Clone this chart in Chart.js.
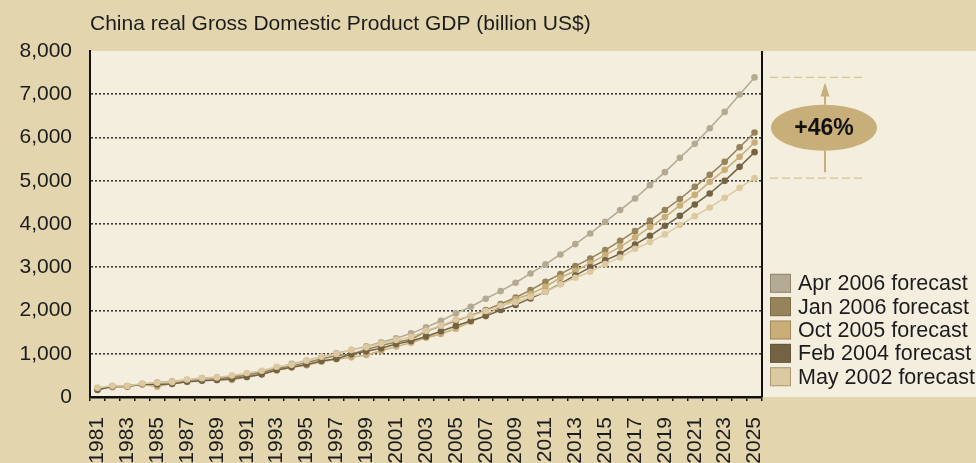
<!DOCTYPE html>
<html>
<head>
<meta charset="utf-8">
<script src="https://cdn.jsdelivr.net/npm/chart.js@4.4.0/dist/chart.umd.min.js"></script>
<style>
  html, body { margin: 0; padding: 0; background: #E3D5AD; overflow: hidden; }
  canvas { display: block; }
</style>
</head>
<body>
<canvas id="gdp" width="976" height="463"></canvas>
<script>
const years = ['1981', '1982', '1983', '1984', '1985', '1986', '1987', '1988', '1989', '1990',
  '1991', '1992', '1993', '1994', '1995', '1996', '1997', '1998', '1999', '2000',
  '2001', '2002', '2003', '2004', '2005', '2006', '2007', '2008', '2009', '2010',
  '2011', '2012', '2013', '2014', '2015', '2016', '2017', '2018', '2019', '2020',
  '2021', '2022', '2023', '2024', '2025'];

// billion US$, one value per year
const apr2006 = [205, 225, 248, 290, 335, 362, 400, 440, 455, 475,
  520, 595, 675, 765, 845, 930, 1010, 1090, 1170, 1265,
  1360, 1471, 1610, 1764, 1933, 2087, 2272, 2449, 2642, 2857,
  3066, 3296, 3535, 3782, 4051, 4321, 4591, 4898, 5199, 5530,
  5853, 6215, 6592, 6994, 7390];
const jan2006 = [180, 240, 252, 300, 320, 340, 380, 420, 430, 450,
  500, 565, 650, 720, 800, 880, 960, 990, 1100, 1190,
  1270, 1330, 1520, 1640, 1760, 1880, 2010, 2150, 2300, 2472,
  2665, 2840, 3027, 3204, 3396, 3612, 3835, 4078, 4325, 4578,
  4859, 5137, 5437, 5776, 6116];
const oct2005 = [190, 240, 250, 295, 239, 320, 355, 385, 395, 393,
  465, 520, 610, 690, 732, 815, 870, 917, 970, 1070,
  1165, 1255, 1370, 1455, 1580, 1740, 1900, 2090, 2260, 2380,
  2549, 2757, 2919, 3096, 3281, 3473, 3690, 3928, 4159, 4429,
  4674, 4975, 5252, 5553, 5885];
const feb2004 = [162, 250, 245, 300, 290, 300, 354, 377, 393, 420,
  462, 524, 624, 686, 750, 832, 886, 986, 1056, 1125,
  1225, 1294, 1400, 1520, 1640, 1764, 1870, 2010, 2130, 2280,
  2434, 2620, 2810, 2996, 3160, 3312, 3527, 3728, 3959, 4189,
  4452, 4706, 4998, 5321, 5661];
const may2002 = [216, 262, 254, 312, 330, 345, 405, 435, 450, 500,
  555, 608, 701, 747, 839, 932, 994, 1086, 1148, 1235,
  1320, 1390, 1530, 1650, 1790, 1870, 1987, 2110, 2190, 2318,
  2434, 2603, 2757, 2896, 3073, 3227, 3427, 3581, 3759, 3974,
  4182, 4383, 4605, 4836, 5060];

const seriesNames = ['Apr 2006 forecast', 'Jan 2006 forecast', 'Oct 2005 forecast',
  'Feb 2004 forecast', 'May 2002 forecast'];
const seriesColors = ['#B4AA93', '#978359', '#C9AE78', '#736343', '#DCC9A0'];
const seriesData = [apr2006, jan2006, oct2005, feb2004, may2002];

const title = 'China real Gross Domestic Product GDP (billion US$)';
const FONT = "'Liberation Sans', Arial, Helvetica, sans-serif";
const INK = '#1c1c1c';

const datasets = seriesData.map((data, i) => ({
  label: seriesNames[i],
  data,
  borderColor: seriesColors[i],
  backgroundColor: seriesColors[i],
  pointBackgroundColor: seriesColors[i],
  pointBorderWidth: 0,
  pointRadius: 3.3,
  borderWidth: 1.5,
  tension: 0,
  // older forecasts drawn over newer ones
  order: seriesData.length - 1 - i
}));

const frame = {
  id: 'frame',
  beforeDraw(chart) {
    const {ctx, chartArea: a, width, height} = chart;
    ctx.save();
    ctx.fillStyle = '#E3D5AD';
    ctx.fillRect(0, 0, width, height);
    ctx.fillStyle = '#F4EEDF';
    ctx.fillRect(a.left, a.top, width - a.left, a.bottom - a.top);
    ctx.restore();
  },
  afterDraw(chart) {
    const {ctx, chartArea: a} = chart;
    const y = chart.scales.y;
    ctx.save();

    // right edge of the plot
    ctx.strokeStyle = '#111';
    ctx.lineWidth = 2;
    ctx.beginPath();
    ctx.moveTo(a.right, a.top);
    ctx.lineTo(a.right, a.bottom);
    ctx.stroke();

    // title
    ctx.fillStyle = INK;
    ctx.font = '21px ' + FONT;
    ctx.textAlign = 'left';
    ctx.textBaseline = 'alphabetic';
    ctx.fillText(title, a.left, 30);

    // legend
    const lx = a.right + 8;
    ctx.font = '21.5px ' + FONT;
    chart.data.datasets.forEach((ds, i) => {
      const cy = 283.3 + i * 23.35;
      ctx.fillStyle = ds.backgroundColor;
      ctx.fillRect(lx, cy - 9.5, 21, 19);
      ctx.strokeStyle = 'rgba(80,65,40,0.35)';
      ctx.lineWidth = 1;
      ctx.strokeRect(lx + 0.5, cy - 9, 20, 18);
      ctx.fillStyle = INK;
      ctx.textBaseline = 'middle';
      ctx.fillText(ds.label, lx + 28, cy + 1);
    });

    // gap between newest and oldest forecast for the last year
    const last = years.length - 1;
    const hi = apr2006[last];
    const lo = may2002[last];
    const yHi = y.getPixelForValue(hi);
    const yLo = y.getPixelForValue(lo);
    const gold = '#C8AE78';
    ctx.strokeStyle = '#D7C38F';
    ctx.lineWidth = 1.3;
    ctx.setLineDash([8, 4]);
    [yHi, yLo].forEach(py => {
      ctx.beginPath();
      ctx.moveTo(a.right + 8, py);
      ctx.lineTo(a.right + 104, py);
      ctx.stroke();
    });
    ctx.setLineDash([]);

    const ax = a.right + 63;
    const mid = (yHi + yLo) / 2;
    const ry = 23;
    ctx.strokeStyle = gold;
    ctx.lineWidth = 2;
    ctx.beginPath();
    ctx.moveTo(ax, mid - ry);
    ctx.lineTo(ax, yHi + 18);
    ctx.moveTo(ax, mid + ry);
    ctx.lineTo(ax, yLo - 6);
    ctx.stroke();
    ctx.fillStyle = gold;
    ctx.beginPath();
    ctx.moveTo(ax, yHi + 5);
    ctx.lineTo(ax - 4.5, yHi + 19);
    ctx.lineTo(ax + 4.5, yHi + 19);
    ctx.closePath();
    ctx.fill();

    ctx.beginPath();
    ctx.ellipse(ax - 1, mid, 53, ry, 0, 0, Math.PI * 2);
    ctx.fill();

    ctx.fillStyle = '#111';
    ctx.font = 'bold 23px ' + FONT;
    ctx.textAlign = 'center';
    ctx.textBaseline = 'middle';
    const pct = Math.round((hi / lo - 1) * 100);
    ctx.fillText('+' + pct + '%', ax - 1, mid + 1);

    ctx.restore();
  }
};

new Chart(document.getElementById('gdp'), {
  type: 'line',
  data: { labels: years, datasets },
  options: {
    responsive: false,
    animation: false,
    devicePixelRatio: 1,
    layout: { padding: { top: 51, right: 214, left: 0, bottom: 0 } },
    plugins: {
      legend: { display: false },
      tooltip: { enabled: false }
    },
    scales: {
      x: {
        offset: true,
        grid: {
          offset: true,
          drawOnChartArea: false,
          drawTicks: true,
          tickLength: 4,
          lineWidth: 1.5,
          tickColor: '#111'
        },
        border: { display: true, color: '#111', width: 2.5 },
        ticks: {
          autoSkip: false,
          minRotation: 90,
          maxRotation: 90,
          padding: 16,
          color: INK,
          font: { family: FONT, size: 21 },
          callback(value, index) {
            return index % 2 === 0 ? this.getLabelForValue(value) : '';
          }
        },
        afterFit(scale) {
          scale.height = 66;
          scale.paddingLeft = 0;
          scale.paddingRight = 0;
        }
      },
      y: {
        min: 0,
        max: 8000,
        grid: {
          drawTicks: false,
          lineWidth: 1.6,
          color: ctx => (ctx.tick.value === 0 || ctx.tick.value === 8000) ? 'rgba(0,0,0,0)' : '#383838'
        },
        border: { display: true, color: '#111', width: 2, dash: [2, 2] },
        ticks: {
          stepSize: 1000,
          padding: 18,
          color: INK,
          font: { family: FONT, size: 21 },
          callback: v => v.toLocaleString('en-US')
        },
        afterFit(scale) {
          scale.width = 90;
          scale.paddingTop = 0;
          scale.paddingBottom = 0;
        }
      }
    }
  },
  plugins: [frame]
});
</script>
</body>
</html>
